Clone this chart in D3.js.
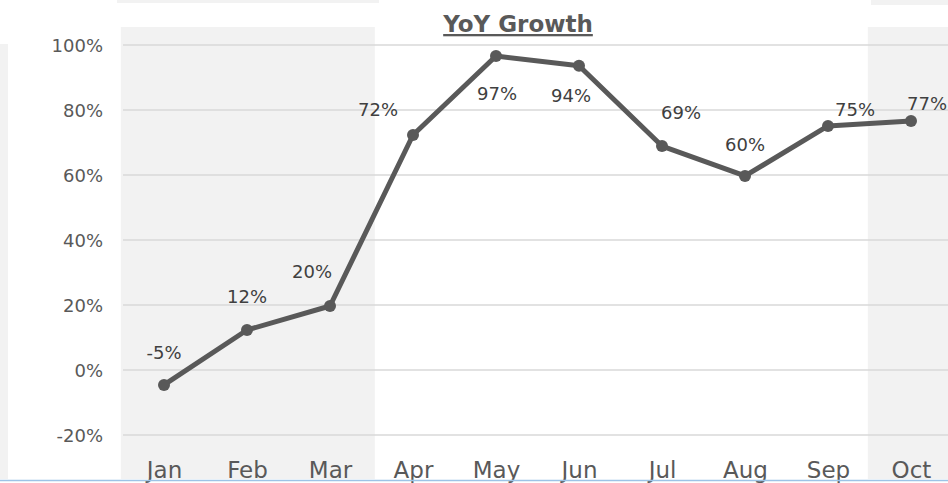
<!DOCTYPE html>
<html>
<head>
<meta charset="utf-8">
<script src="https://cdn.jsdelivr.net/npm/d3@7"></script>
<style>
  html, body { margin: 0; padding: 0; background: #fff; }
  svg { display: block; }
  text { font-family: "DejaVu Sans", Verdana, sans-serif; }
</style>
</head>
<body>
<svg id="chart" width="948" height="483"></svg>
<script>
// ---- data ----
const months = ["Jan", "Feb", "Mar", "Apr", "May", "Jun", "Jul", "Aug", "Sep", "Oct"];
const growth = [-4.6, 12.3, 19.7, 72.3, 96.6, 93.6, 68.9, 59.7, 75.1, 76.6];
const yTicks = [-20, 0, 20, 40, 60, 80, 100];
const shadedRanges = [["Jan", "Mar"], ["Oct", "Oct"]];
const title = "YoY Growth";

// label placement (style config, offsets from point in px)
const labelOffsets = [[0, -32], [0, -33], [-18, -34], [-35, -25], [1, 38], [-8, 30], [19, -33], [0, -31], [27, -16], [16, -17]];

const W = 948, H = 483;
const svg = d3.select("#chart");

const x = d3.scalePoint().domain(months).range([164, 911]);
const step = x.step();
const y = d3.scaleLinear().domain([-20, 100]).range([435, 45]);

// decorative neighbouring panels
svg.append("rect").attr("x", 0).attr("y", 44).attr("width", 8).attr("height", 435).attr("fill", "#f2f2f2");
svg.append("rect").attr("x", 117).attr("y", 0).attr("width", 262).attr("height", 3).attr("fill", "#f2f2f2");
svg.append("rect").attr("x", 871).attr("y", 0).attr("width", 77).attr("height", 5).attr("fill", "#f2f2f2");

// shaded month bands
svg.append("g").selectAll("rect").data(shadedRanges).join("rect")
  .attr("x", d => x(d[0]) - step * 0.52)
  .attr("y", 27)
  .attr("width", d => x(d[1]) - x(d[0]) + step * 1.06)
  .attr("height", 479 - 27)
  .attr("fill", "#f2f2f2");

// gridlines
svg.append("g").selectAll("line").data(yTicks).join("line")
  .attr("x1", 123).attr("x2", W)
  .attr("y1", d => y(d)).attr("y2", d => y(d))
  .attr("stroke", "#d9d9d9").attr("stroke-width", 1.5);

// y axis
const yAxis = d3.axisLeft(y).tickValues(yTicks).tickFormat(d => d + "%").tickSize(0).tickPadding(0);
const gy = svg.append("g").attr("transform", "translate(103,0)").call(yAxis);
gy.select(".domain").remove();
gy.selectAll("text").attr("font-size", 18).attr("fill", "#595959")
  .attr("font-family", "DejaVu Sans, Verdana, sans-serif").attr("dy", "0.35em");

// x axis
const xAxis = d3.axisBottom(x).tickSize(0).tickPadding(0);
const gx = svg.append("g").attr("transform", "translate(0,462)").call(xAxis);
gx.select(".domain").remove();
gx.selectAll("text").attr("font-size", 23).attr("fill", "#595959")
  .attr("font-family", "DejaVu Sans, Verdana, sans-serif").attr("dy", "0.71em");

// line
const pts = months.map((m, i) => ({ m, v: growth[i], i }));
svg.append("path").datum(pts)
  .attr("d", d3.line().x(d => x(d.m)).y(d => y(d.v)))
  .attr("fill", "none").attr("stroke", "#595959").attr("stroke-width", 5)
  .attr("stroke-linejoin", "round");

svg.append("g").selectAll("circle").data(pts).join("circle")
  .attr("cx", d => x(d.m)).attr("cy", d => y(d.v)).attr("r", 6)
  .attr("fill", "#595959");

// data labels
svg.append("g").selectAll("text").data(pts).join("text")
  .attr("x", d => x(d.m) + labelOffsets[d.i][0])
  .attr("y", d => y(d.v) + labelOffsets[d.i][1])
  .attr("dy", "0.35em")
  .attr("text-anchor", "middle")
  .attr("font-size", 18).attr("fill", "#404040")
  .text(d => Math.round(d.v) + "%");

// title
svg.append("text").attr("x", 518).attr("y", 32)
  .attr("text-anchor", "middle")
  .attr("font-size", 23).attr("font-weight", "bold").attr("fill", "#595959")
  .style("text-decoration", "underline")
  .text(title);

// bottom blue rule
svg.append("line").attr("x1", 0).attr("x2", W).attr("y1", 480.5).attr("y2", 480.5)
  .attr("stroke", "#9cc3e6").attr("stroke-width", 1.5);
</script>
</body>
</html>
